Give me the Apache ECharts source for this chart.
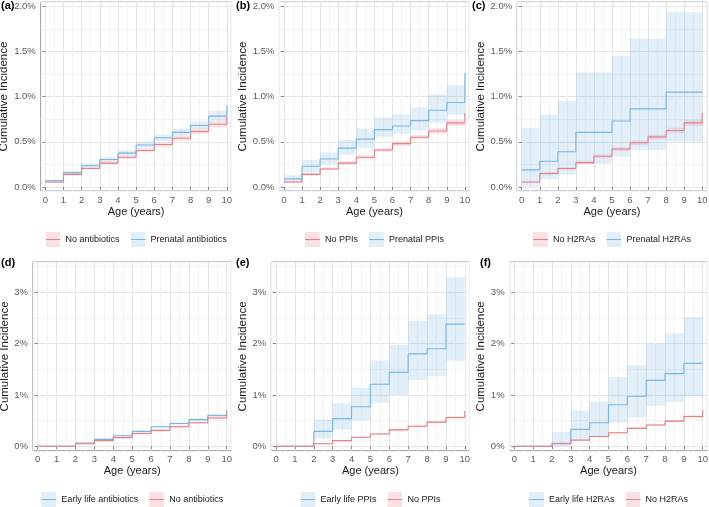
<!DOCTYPE html>
<html>
<head>
<meta charset="utf-8">
<script src="https://cdn.jsdelivr.net/npm/echarts@6/dist/echarts.min.js"></script>
<style>
  html, body { margin: 0; padding: 0; background: #fff; }
  #chart { width: 709px; height: 507px; }
</style>
</head>
<body>
<div id="chart"></div>
<script>
// ages: step left edges (0..10)
const ages = [0, 1, 2, 3, 4, 5, 6, 7, 8, 9, 10];
const yTicksTop = [0, 0.5, 1, 1.5, 2];
const yTicksBottom = [0, 1, 2, 3];

// values in % ; one value per year interval (0-1 ... 9-10), plus the value reached at age 10
// (a) prenatal antibiotics
const aNoAbx = [0.055, 0.14, 0.205, 0.265, 0.33, 0.405, 0.47, 0.54, 0.615, 0.695];
const aNoAbxEnd = 0.775;
const aNoAbxLo = [0.045, 0.125, 0.19, 0.25, 0.31, 0.385, 0.445, 0.515, 0.585, 0.66];
const aNoAbxHi = [0.065, 0.155, 0.22, 0.285, 0.35, 0.43, 0.495, 0.57, 0.645, 0.73];
const aPreAbx = [0.07, 0.16, 0.235, 0.305, 0.375, 0.465, 0.545, 0.605, 0.68, 0.785];
const aPreAbxEnd = 0.9;
const aPreAbxLo = [0.055, 0.14, 0.215, 0.28, 0.35, 0.435, 0.51, 0.57, 0.64, 0.73];
const aPreAbxHi = [0.085, 0.18, 0.26, 0.33, 0.405, 0.5, 0.58, 0.645, 0.725, 0.845];

// (b) prenatal PPIs
const bNoPpi = [0.055, 0.14, 0.2, 0.265, 0.33, 0.41, 0.48, 0.55, 0.62, 0.71];
const bNoPpiEnd = 0.82;
const bNoPpiLo = [0.045, 0.125, 0.185, 0.25, 0.31, 0.39, 0.455, 0.525, 0.59, 0.675];
const bNoPpiHi = [0.065, 0.155, 0.215, 0.285, 0.35, 0.43, 0.505, 0.575, 0.65, 0.745];
const bPrePpi = [0.09, 0.23, 0.31, 0.43, 0.53, 0.635, 0.675, 0.735, 0.85, 0.935];
const bPrePpiEnd = 1.265;
const bPrePpiLo = [0.05, 0.16, 0.25, 0.36, 0.435, 0.555, 0.59, 0.625, 0.71, 0.8];
const bPrePpiHi = [0.13, 0.3, 0.385, 0.52, 0.65, 0.77, 0.805, 0.88, 1.025, 1.13];

// (c) prenatal H2RAs
const cNoH2 = [0.055, 0.15, 0.205, 0.27, 0.34, 0.42, 0.49, 0.555, 0.625, 0.71];
const cNoH2End = 0.82;
const cNoH2Lo = [0.045, 0.135, 0.19, 0.255, 0.32, 0.4, 0.465, 0.53, 0.595, 0.675];
const cNoH2Hi = [0.065, 0.165, 0.22, 0.29, 0.36, 0.44, 0.515, 0.58, 0.655, 0.745];
const cPreH2 = [0.19, 0.285, 0.39, 0.605, 0.605, 0.73, 0.865, 0.865, 1.05, 1.05];
const cPreH2End = 1.05;
const cPreH2Lo = [0.005, 0.085, 0.135, 0.255, 0.255, 0.335, 0.41, 0.41, 0.5, 0.5];
const cPreH2Hi = [0.655, 0.8, 0.955, 1.27, 1.27, 1.45, 1.64, 1.64, 1.935, 1.935];

// (d) early life antibiotics
const dEarlyAbx = [0, 0, 0.065, 0.135, 0.205, 0.29, 0.38, 0.445, 0.52, 0.6];
const dEarlyAbxEnd = 0.7;
const dEarlyAbxLo = [0, 0, 0.055, 0.12, 0.19, 0.27, 0.36, 0.425, 0.495, 0.575];
const dEarlyAbxHi = [0, 0, 0.075, 0.15, 0.225, 0.31, 0.4, 0.47, 0.545, 0.63];
const dNoAbx = [0, 0, 0.05, 0.11, 0.17, 0.25, 0.31, 0.38, 0.46, 0.55];
const dNoAbxEnd = 0.68;
const dNoAbxLo = [0, 0, 0.04, 0.1, 0.155, 0.235, 0.29, 0.36, 0.44, 0.525];
const dNoAbxHi = [0, 0, 0.06, 0.12, 0.185, 0.265, 0.33, 0.4, 0.48, 0.575];

// (e) early life PPIs
const eEarlyPpi = [0, 0, 0.29, 0.54, 0.77, 1.21, 1.44, 1.8, 1.9, 2.38];
const eEarlyPpiEnd = 2.38;
const eEarlyPpiLo = [0, 0, 0.15, 0.325, 0.505, 0.845, 1.0, 1.29, 1.365, 1.665];
const eEarlyPpiHi = [0, 0, 0.52, 0.84, 1.14, 1.675, 1.975, 2.44, 2.57, 3.29];
const eNoPpi = [0, 0, 0.05, 0.11, 0.175, 0.24, 0.32, 0.39, 0.47, 0.56];
const eNoPpiEnd = 0.69;
const eNoPpiLo = [0, 0, 0.04, 0.1, 0.16, 0.225, 0.3, 0.37, 0.45, 0.535];
const eNoPpiHi = [0, 0, 0.06, 0.12, 0.19, 0.255, 0.34, 0.41, 0.49, 0.585];

// (f) early life H2RAs
const fEarlyH2 = [0, 0, 0.06, 0.33, 0.46, 0.81, 0.975, 1.285, 1.415, 1.615];
const fEarlyH2End = 1.615;
const fEarlyH2Lo = [0, 0, 0, 0.13, 0.2, 0.46, 0.56, 0.79, 0.865, 0.975];
const fEarlyH2Hi = [0, 0, 0.28, 0.695, 0.875, 1.35, 1.585, 2.0, 2.2, 2.52];
const fNoH2 = [0, 0, 0.05, 0.12, 0.19, 0.265, 0.35, 0.415, 0.49, 0.58];
const fNoH2End = 0.695;
const fNoH2Lo = [0, 0, 0.04, 0.11, 0.175, 0.25, 0.33, 0.395, 0.47, 0.555];
const fNoH2Hi = [0, 0, 0.06, 0.13, 0.205, 0.28, 0.37, 0.435, 0.51, 0.605];

const FONT = '"Liberation Sans", Arial, Helvetica, sans-serif';
const LINE = { red: '#E8808A', blue: '#7AB6E2' };
const BAND = { red: 'rgba(232,128,138,0.22)', blue: 'rgba(122,182,226,0.22)' };
const KEYFILL = { red: '#FAE1E3', blue: '#E2EFF9' };

// panel layout (px) and groups in legend order
const panels = [
  { tag: '(a)', tagX: 1, tagY: 0, top: true, grid: { left: 40.8, top: 2.2, width: 190.6, height: 188.9 },
    groups: [
      { name: 'No antibiotics', col: 'red', est: aNoAbx, end: aNoAbxEnd, lo: aNoAbxLo, hi: aNoAbxHi },
      { name: 'Prenatal antibiotics', col: 'blue', est: aPreAbx, end: aPreAbxEnd, lo: aPreAbxLo, hi: aPreAbxHi }
    ] },
  { tag: '(b)', tagX: 236, tagY: 0, top: true, grid: { left: 279.4, top: 2.2, width: 190, height: 188.9 },
    groups: [
      { name: 'No PPIs', col: 'red', est: bNoPpi, end: bNoPpiEnd, lo: bNoPpiLo, hi: bNoPpiHi },
      { name: 'Prenatal PPIs', col: 'blue', est: bPrePpi, end: bPrePpiEnd, lo: bPrePpiLo, hi: bPrePpiHi }
    ] },
  { tag: '(c)', tagX: 472, tagY: 0, top: true, grid: { left: 517.2, top: 2.2, width: 189.5, height: 188.9 },
    groups: [
      { name: 'No H2RAs', col: 'red', est: cNoH2, end: cNoH2End, lo: cNoH2Lo, hi: cNoH2Hi },
      { name: 'Prenatal H2RAs', col: 'blue', est: cPreH2, end: cPreH2End, lo: cPreH2Lo, hi: cPreH2Hi }
    ] },
  { tag: '(d)', tagX: 1, tagY: 257, top: false, grid: { left: 33, top: 262.1, width: 198.4, height: 188.7 },
    groups: [
      { name: 'Early life antibiotics', col: 'blue', est: dEarlyAbx, end: dEarlyAbxEnd, lo: dEarlyAbxLo, hi: dEarlyAbxHi },
      { name: 'No antibiotics', col: 'red', est: dNoAbx, end: dNoAbxEnd, lo: dNoAbxLo, hi: dNoAbxHi }
    ] },
  { tag: '(e)', tagX: 236, tagY: 257, top: false, grid: { left: 271.3, top: 262.1, width: 198.2, height: 188.7 },
    groups: [
      { name: 'Early life PPIs', col: 'blue', est: eEarlyPpi, end: eEarlyPpiEnd, lo: eEarlyPpiLo, hi: eEarlyPpiHi },
      { name: 'No PPIs', col: 'red', est: eNoPpi, end: eNoPpiEnd, lo: eNoPpiLo, hi: eNoPpiHi }
    ] },
  { tag: '(f)', tagX: 480, tagY: 257, top: false, grid: { left: 509.6, top: 262.1, width: 197.8, height: 188.7 },
    groups: [
      { name: 'Early life H2RAs', col: 'blue', est: fEarlyH2, end: fEarlyH2End, lo: fEarlyH2Lo, hi: fEarlyH2Hi },
      { name: 'No H2RAs', col: 'red', est: fNoH2, end: fNoH2End, lo: fNoH2Lo, hi: fNoH2Hi }
    ] }
];

const ctx = document.createElement('canvas').getContext('2d');
ctx.font = '9px ' + FONT;
const textW = t => ctx.measureText(t).width;

function keyIcon(col) {
  const svg = '<svg xmlns="http://www.w3.org/2000/svg" width="30" height="30">' +
    '<rect width="30" height="30" fill="' + KEYFILL[col] + '"/>' +
    '<line x1="0" y1="15" x2="30" y2="15" stroke="' + LINE[col] + '" stroke-width="2.2"/></svg>';
  return 'image://data:image/svg+xml;charset=utf-8,' + encodeURIComponent(svg);
}

// step-shaped confidence ribbon, drawn as one polygon through the axis scales
function ribbonRender(gr) {
  return function (params, api) {
    const pts = [];
    gr.hi.forEach((v, i) => { pts.push(api.coord([ages[i], v]), api.coord([ages[i + 1], v])); });
    for (let i = gr.lo.length - 1; i >= 0; i--) {
      pts.push(api.coord([ages[i + 1], gr.lo[i]]), api.coord([ages[i], gr.lo[i]]));
    }
    return { type: 'polygon', shape: { points: pts }, style: { fill: BAND[gr.col] } };
  };
}

const grids = [], xAxes = [], yAxes = [], series = [], legends = [], graphics = [];

panels.forEach((p, g) => {
  grids.push(Object.assign({ show: true, borderColor: '#868686', borderWidth: 1, backgroundColor: '#fff',
    containLabel: false, outerBoundsMode: 'none' }, p.grid));

  const yMin = p.top ? -0.045 : -0.0875;
  const yMax = p.top ? 2.045 : 3.5875;
  const yTicks = p.top ? yTicksTop : yTicksBottom;
  const yStep = p.top ? 0.25 : 0.5; // half a major step, for minor lines

  // main x axis
  xAxes.push({
    type: 'value', gridIndex: g, min: -0.25, max: 10.25, splitNumber: 10, position: 'bottom',
    name: 'Age (years)', nameLocation: 'middle', nameGap: 14,
    nameTextStyle: { fontSize: 11, color: '#1a1a1a', fontFamily: FONT },
    axisLine: { show: false },
    axisTick: { show: true, length: 3, lineStyle: { color: '#868686' }, customValues: ages },
    axisLabel: { customValues: ages, margin: 4, fontSize: 9.5, color: '#5a5a5a', fontFamily: FONT,
      formatter: v => (Number.isInteger(v) ? String(v) : '') },
    splitLine: { show: true, lineStyle: { color: '#e6e6e6', width: 1 } }
  });
  // helper x axis: shifted range so its ticks fall on the half years (minor grid)
  xAxes.push({
    type: 'value', gridIndex: g, min: 0.25, max: 10.75, splitNumber: 10, position: 'top',
    axisLine: { show: false }, axisTick: { show: false }, axisLabel: { show: false },
    splitLine: { show: true, lineStyle: { color: '#f3f3f3', width: 1 } }
  });

  yAxes.push({
    type: 'value', gridIndex: g, min: yMin, max: yMax, splitNumber: 4, position: 'left',
    name: 'Cumulative Incidence', nameLocation: 'middle', nameGap: p.top ? 25 : 17,
    nameTextStyle: { fontSize: 11.5, color: '#1a1a1a', fontFamily: FONT },
    axisLine: { show: false },
    axisTick: { show: true, length: 3, lineStyle: { color: '#868686' }, customValues: yTicks },
    axisLabel: { customValues: yTicks, margin: 5, fontSize: 9.5, color: '#5a5a5a', fontFamily: FONT,
      formatter: v => (yTicks.indexOf(v) < 0 ? '' : (p.top ? v.toFixed(1) : v.toFixed(0)) + '%') },
    splitLine: { show: true, lineStyle: { color: '#e6e6e6', width: 1 } }
  });
  yAxes.push({
    type: 'value', gridIndex: g, min: yMin + yStep, max: yMax + yStep, splitNumber: 4, position: 'right',
    axisLine: { show: false }, axisTick: { show: false }, axisLabel: { show: false },
    splitLine: { show: true, lineStyle: { color: '#f3f3f3', width: 1 } }
  });

  const ax = { xAxisIndex: 2 * g, yAxisIndex: 2 * g };

  // confidence ribbons
  p.groups.forEach((gr, k) => {
    series.push(Object.assign({ type: 'custom', name: 'ci' + g + '_' + k, silent: true, z: 1,
      data: [[ages[0], gr.lo[0]]], encode: { x: 0, y: 1 }, renderItem: ribbonRender(gr) }, ax));
  });

  // estimate step lines
  p.groups.forEach(gr => {
    const d = gr.est.map((v, i) => [ages[i], v]);
    d.push([ages[10], gr.est[9]], [ages[10], gr.end]);
    series.push(Object.assign({ type: 'line', name: gr.name, step: 'end', data: d, symbol: 'none',
      color: LINE[gr.col], lineStyle: { color: LINE[gr.col], width: 1.1 }, z: 3 }, ax));
  });

  // legend centred under the panel
  const names = p.groups.map(gr => gr.name);
  const lw = names.reduce((s, n) => s + 15 + 5 + textW(n), 0) + 11 * (names.length - 1);
  legends.push({
    left: p.grid.left + p.grid.width / 2 - lw / 2, top: p.top ? 232 : 492,
    padding: 0, itemWidth: 15, itemHeight: 15, itemGap: 11, selectedMode: false,
    textStyle: { fontSize: 9, color: '#1a1a1a', fontFamily: FONT },
    data: p.groups.map(gr => ({ name: gr.name, icon: keyIcon(gr.col) }))
  });

  graphics.push({ type: 'text', left: p.tagX, top: p.tagY,
    style: { text: p.tag, font: 'bold 11px ' + FONT, fill: '#000' } });
});

const chart = echarts.init(document.getElementById('chart'), null, { renderer: 'canvas' });
chart.setOption({
  animation: false,
  backgroundColor: '#fff',
  textStyle: { fontFamily: FONT },
  grid: grids,
  xAxis: xAxes,
  yAxis: yAxes,
  legend: legends,
  graphic: graphics,
  series: series
});
</script>
</body>
</html>
